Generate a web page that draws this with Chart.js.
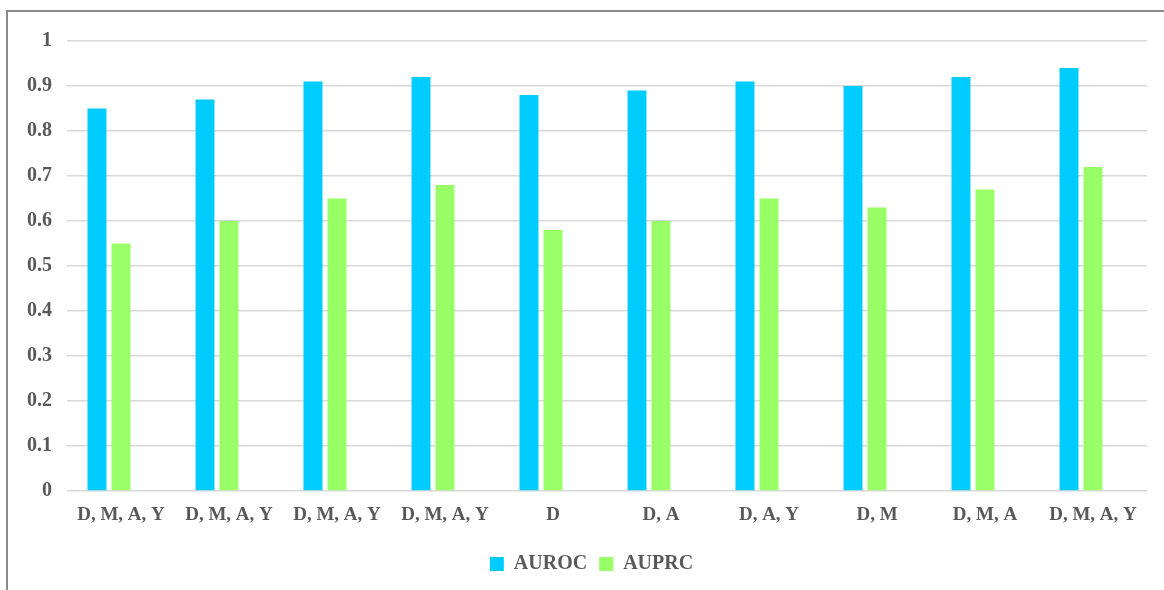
<!DOCTYPE html>
<html>
<head>
<meta charset="utf-8">
<script src="https://cdn.jsdelivr.net/npm/chart.js@4/dist/chart.umd.min.js"></script>
<style>
  html, body { margin: 0; padding: 0; background: #fff; }
  #wrap { position: relative; width: 1164px; height: 590px; overflow: hidden; }
  #frame { position: absolute; left: 6px; top: 10px; width: 1200px; height: 700px;
           border-left: 2px solid #8a8a8a; border-top: 2px solid #8a8a8a; box-sizing: border-box; }
  canvas { position: absolute; left: 0; top: 0; }
</style>
</head>
<body>
<div id="wrap">
  <div id="frame"></div>
  <canvas id="c" width="1164" height="590"></canvas>
</div>
<script>
const categories = ['D, M, A, Y', 'D, M, A, Y', 'D, M, A, Y', 'D, M, A, Y', 'D', 'D, A', 'D, A, Y', 'D, M', 'D, M, A', 'D, M, A, Y'];
const auroc = [0.85, 0.87, 0.91, 0.92, 0.88, 0.89, 0.91, 0.90, 0.92, 0.94];
const auprc = [0.55, 0.60, 0.65, 0.68, 0.58, 0.60, 0.65, 0.63, 0.67, 0.72];
const yTicks = [0, 0.1, 0.2, 0.3, 0.4, 0.5, 0.6, 0.7, 0.8, 0.9, 1];

const textColor = '#595959';
const family = '"Liberation Serif", "Times New Roman", serif';
const xTickFont = { family: family, size: 19, weight: 'bold' };
const yTickFont = { family: family, size: 20, weight: 'bold' };
const legendFont = { family: family, size: 20, weight: 'bold' };

// nudge the legend a little to the right of the canvas centre
const legendShift = {
  id: 'legendShift',
  afterLayout(chart) {
    const dx = 18;
    chart.legend.left += dx;
    chart.legend.right += dx;
  }
};

new Chart(document.getElementById('c'), {
  type: 'bar',
  data: {
    labels: categories,
    datasets: [
      { label: 'AUROC', data: auroc, backgroundColor: '#00CCFF' },
      { label: 'AUPRC', data: auprc, backgroundColor: '#99FF66' },
      // empty third slot in each group (keeps the pair left of the label centre)
      { label: '', data: categories.map(() => null), backgroundColor: 'rgba(0,0,0,0)' }
    ]
  },
  options: {
    responsive: false,
    animation: false,
    layout: { padding: { top: 41, right: 17, left: 0, bottom: 6 } },
    datasets: { bar: { categoryPercentage: 0.667, barPercentage: 0.79 } },
    scales: {
      x: {
        grid: { display: false, drawTicks: false },
        border: { display: false },
        ticks: { color: textColor, font: xTickFont, padding: 13, maxRotation: 0, autoSkip: false },
        afterFit: (s) => { s.height = 51; }
      },
      y: {
        min: 0, max: 1,
        afterBuildTicks: (s) => { s.ticks = yTicks.map(v => ({ value: v })); },
        grid: { color: '#d9d9d9', lineWidth: 1.5, drawTicks: false },
        border: { display: false },
        ticks: { color: textColor, font: yTickFont, padding: 15,
                 callback: (v) => String(Math.round(v * 10) / 10) },
        afterFit: (s) => { s.width = 67; }
      }
    },
    plugins: {
      tooltip: { enabled: false },
      legend: {
        position: 'bottom',
        labels: {
          color: textColor, font: legendFont, boxWidth: 14, boxHeight: 14, padding: 12,
          filter: (item) => item.text !== ''
        }
      }
    }
  },
  plugins: [legendShift]
});
</script>
</body>
</html>
